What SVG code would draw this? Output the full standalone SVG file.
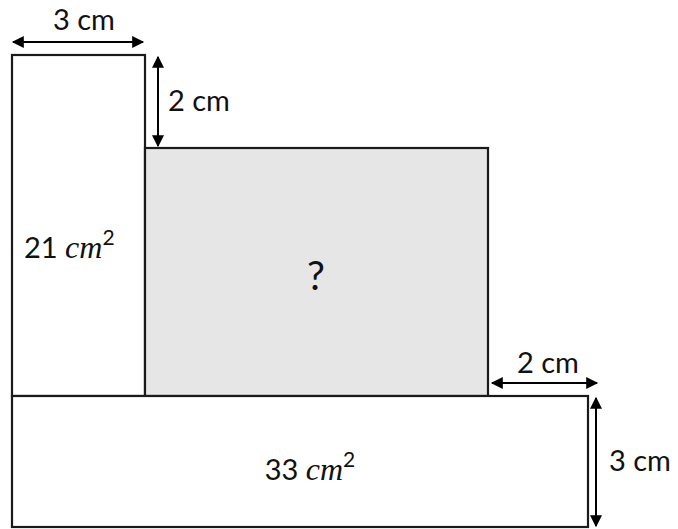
<svg xmlns="http://www.w3.org/2000/svg" width="678" height="529" viewBox="0 0 678 529">
<style>
.shape{stroke:#1a1a1a;stroke-width:2.2}
.dim{stroke:#000;stroke-width:2;fill:none}
.t{font-family:Lato,"Open Sans","Liberation Sans",sans-serif;font-size:29px;fill:#111}
.m{font-family:"Liberation Serif",serif;font-style:italic;font-size:32px}
.sup{font-size:21px}
.q{font-size:40px}
</style>
<defs>
<marker id="ah" viewBox="0 0 10 10" refX="9" refY="5" markerWidth="6.5" markerHeight="6" markerUnits="strokeWidth" orient="auto-start-reverse">
<path d="M0,0 L10,5 L0,10 z" fill="#000"/>
</marker>
</defs>
<rect width="678" height="529" fill="#fff"/>
<g id="rect-left">
<rect class="shape" x="12" y="55" width="133" height="341" fill="#fff"/>
<text class="t" x="24" y="258">21 <tspan class="m">cm</tspan><tspan class="sup" dy="-13">2</tspan></text>
</g>
<g id="rect-middle">
<rect class="shape" x="145" y="148" width="343" height="248" fill="#e6e6e6"/>
<text class="t q" x="316" y="290" text-anchor="middle">?</text>
</g>
<g id="rect-bottom">
<rect class="shape" x="12" y="396" width="576" height="131" fill="#fff"/>
<text class="t" x="310" y="480" text-anchor="middle">33 <tspan class="m">cm</tspan><tspan class="sup" dy="-13">2</tspan></text>
</g>
<g id="connectors">
<line class="dim" x1="13" y1="42" x2="143" y2="42" marker-start="url(#ah)" marker-end="url(#ah)"/>
<line class="dim" x1="158" y1="57" x2="158" y2="146" marker-start="url(#ah)" marker-end="url(#ah)"/>
<line class="dim" x1="492" y1="383" x2="597" y2="383" marker-start="url(#ah)" marker-end="url(#ah)"/>
<line class="dim" x1="596" y1="398" x2="596" y2="526" marker-start="url(#ah)" marker-end="url(#ah)"/>
</g>
<g id="labels">
<text class="t" x="84" y="30" text-anchor="middle">3 cm</text>
<text class="t" x="168" y="111">2 cm</text>
<text class="t" x="548" y="373" text-anchor="middle">2 cm</text>
<text class="t" x="609" y="471">3 cm</text>
</g>
</svg>
